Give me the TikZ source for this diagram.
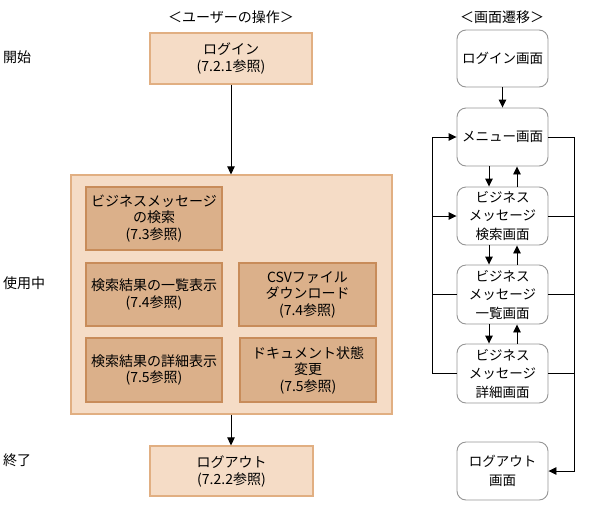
\documentclass[tikz,border=0pt]{standalone}
\usepackage{fontspec}
\setmainfont{Noto Sans CJK JP}
\usetikzlibrary{arrows.meta}
\definecolor{outerfill}{RGB}{245,220,198}
\definecolor{outerline}{RGB}{225,175,130}
\definecolor{innerfill}{RGB}{219,176,138}
\definecolor{innerline}{RGB}{200,140,90}
\definecolor{scrline}{RGB}{150,150,150}
\tikzset{
  lbl/.style={font=\fontsize{14}{16}\selectfont, inner sep=0pt},
  opbox/.style={draw=outerline, fill=outerfill, line width=1.2pt, align=center, inner sep=0pt, font=\fontsize{14}{17}\selectfont},
  subbox/.style={draw=innerline, fill=innerfill, line width=1.2pt, align=center, inner sep=0pt, minimum height=63pt, font=\fontsize{14}{16.5}\selectfont},
  scrbox/.style={draw=scrline, fill=white, line width=0.9pt, rounded corners=9pt, align=center, inner sep=0pt, minimum width=91pt, minimum height=58pt, font=\fontsize{13.5}{18.5}\selectfont},
  conn/.style={draw=black, line width=0.9pt},
  arr/.style={conn, -{Triangle[length=8pt,width=7.5pt]}},
}
\begin{document}
\begin{tikzpicture}[x=1pt,y=-1pt]
\useasboundingbox (0,0) rectangle (589,504);
% headings
\node[lbl] (h1) at (231,17) {＜ユーザーの操作＞};
\node[lbl] (h2) at (502,17) {＜画面遷移＞};
\node[lbl, anchor=west] (s1) at (3,57) {開始};
\node[lbl, anchor=west] (s2) at (3,283) {使用中};
\node[lbl, anchor=west] (s3) at (3,460) {終了};
% operation side
\node[opbox, minimum width=162pt, minimum height=51pt] (login) at (231,58.5) {ログイン\\(7.2.1参照)};
\node[opbox, minimum width=321pt, minimum height=239pt] (use) at (231.5,294.5) {};
\node[subbox, minimum width=136pt] (a) at (154,218.5) {ビジネスメッセージ\\の検索\\(7.3参照)};
\node[subbox, minimum width=136pt] (b) at (154,294.5) {検索結果の一覧表示\\(7.4参照)};
\node[subbox, minimum width=137pt] (c) at (307.5,294.5) {CSVファイル\\ダウンロード\\(7.4参照)};
\node[subbox, minimum width=136pt, minimum height=64pt] (d) at (154,370) {検索結果の詳細表示\\(7.5参照)};
\node[subbox, minimum width=136pt, minimum height=64pt] (e) at (308,370) {ドキュメント状態\\変更\\(7.5参照)};
\node[opbox, minimum width=163pt, minimum height=50pt] (logout) at (231.5,471) {ログアウト\\(7.2.2参照)};
\draw[arr] (login.south -| 231,0) -- (use.north -| 231,0);
\draw[arr] (use.south -| 231,0) -- (logout.north -| 231,0);
% screen side
\node[scrbox, minimum height=57pt] (sl) at (502.5,58.5) {ログイン画面};
\node[scrbox] (sm) at (502.5,137) {メニュー画面};
\node[scrbox] (ss) at (502.5,216) {ビジネス\\メッセージ\\検索画面};
\node[scrbox, minimum height=59pt] (sk) at (502.5,294.5) {ビジネス\\メッセージ\\一覧画面};
\node[scrbox, minimum height=59pt] (sd) at (502.5,373.5) {ビジネス\\メッセージ\\詳細画面};
\node[scrbox] (so) at (502.5,471) {ログアウト\\画面};
\draw[arr] (sl.south) -- (sm.north);
\draw[arr] ([xshift=-13.5pt]sm.south) -- ([xshift=-13.5pt]ss.north);
\draw[arr] ([xshift=14.5pt]ss.north) -- ([xshift=14.5pt]sm.south);
\draw[arr] ([xshift=-13.5pt]ss.south) -- ([xshift=-13.5pt]sk.north);
\draw[arr] ([xshift=14.5pt]sk.north) -- ([xshift=14.5pt]ss.south);
\draw[arr] ([xshift=-13.5pt]sk.south) -- ([xshift=-13.5pt]sd.north);
\draw[arr] ([xshift=14.5pt]sd.north) -- ([xshift=14.5pt]sk.south);
% left loop
\coordinate (lt) at (432,137);
\coordinate (rt) at (574,137);
\coordinate (rb) at (574,471);
\draw[arr] (sd.west) -| (lt) -- (sm.west);
\draw[arr] (ss.west -| lt) -- (ss.west);
\draw[conn] (sk.west) -- (sk.west -| lt);
% right loop
\draw[arr] (sm.east) -| (rb) -- (so.east);
\draw[conn] (ss.east) -- (ss.east -| rt);
\draw[conn] (sk.east) -- (sk.east -| rt);
\draw[conn] (sd.east) -- (sd.east -| rt);
\end{tikzpicture}
\end{document}
